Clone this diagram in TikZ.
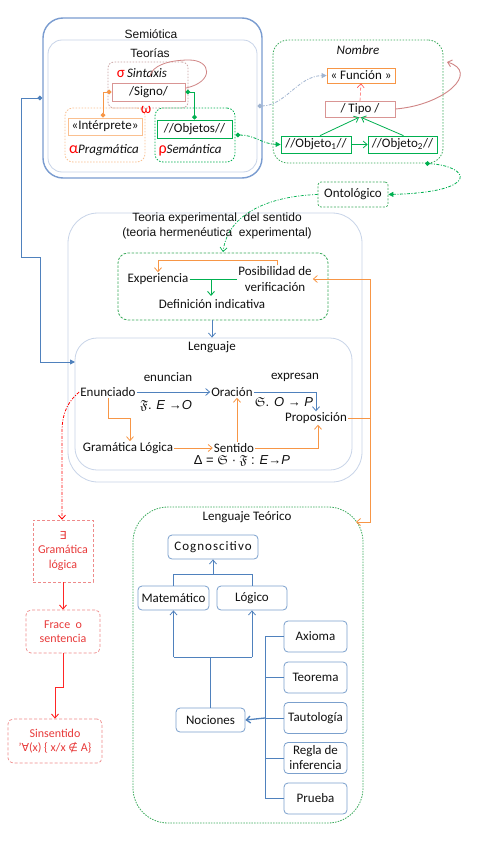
\documentclass[tikz,border=0pt]{standalone}
\usepackage{fontspec}
\setmainfont{Carlito}
\newfontfamily\arialf{Liberation Sans}
\newfontfamily\dejavu{DejaVu Sans}
\usepackage{amssymb}
\usetikzlibrary{arrows.meta,calc}
\definecolor{semblue}{HTML}{7A9CD0}
\definecolor{clight}{HTML}{C8D4E8}
\definecolor{cblue}{HTML}{4F81BD}
\definecolor{cboxblue}{HTML}{7BA0CD}
\definecolor{cgreen}{HTML}{00B050}
\definecolor{cgreend}{HTML}{3BAA5C}
\definecolor{corange}{HTML}{F79646}
\definecolor{corangel}{HTML}{FAC090}
\definecolor{cred}{HTML}{FF0000}
\definecolor{credt}{HTML}{E83A3A}
\definecolor{credl}{HTML}{EE8A8A}
\definecolor{cpink}{HTML}{D99594}
\definecolor{cbrown}{HTML}{C8A0A0}
\definecolor{cloop}{HTML}{D08585}
\definecolor{cgreyblue}{HTML}{A0B4D0}
\definecolor{txt}{HTML}{111111}
\tikzset{
  base/.style={font=\fontsize{13}{15}\selectfont, inner sep=1pt, text=txt},
  arial/.style={font=\arialf\fontsize{12}{14}\selectfont, inner sep=1pt, text=txt},
  cont/.style={draw, inner sep=0pt},
  sbox/.style={base, draw, line width=0.7pt, inner sep=0pt},
  dotbox/.style={cont, line width=0.8pt, dash pattern=on 1.5pt off 1.5pt},
  dashbox/.style={cont, line width=0.8pt, dash pattern=on 2.5pt off 1.5pt},
  ltbox/.style={base, draw=cboxblue, line width=0.8pt, rounded corners=4pt, inner sep=0pt, fill=white},
  redbox/.style={font=\fontsize{12}{14.5}\selectfont, text=credt, draw=credl, line width=0.7pt,
     dash pattern=on 3pt off 2pt, align=center, inner sep=0pt},
  greek/.style={text=cred, font=\fontsize{15}{15}\selectfont},
  tipo/.style={-{Straight Barb[length=4pt,width=7pt]}},
  tri/.style={-{Triangle[length=5pt,width=5pt]}},
  dia/.style={{Diamond[length=5pt,width=5pt]}-{Diamond[length=5pt,width=5pt]}},
}
\begin{document}
\begin{tikzpicture}[x=1pt,y=-1pt]
\useasboundingbox (0,0) rectangle (478,853);
\fill[white] (0,0) rectangle (478,853);

% ---------------- Semiotica
\node[cont, draw=semblue, line width=1.4pt, rounded corners=20pt, minimum width=219pt, minimum height=160pt] (semiotica) at (152.5,98) {};
\node[cont, draw=clight, line width=0.8pt, rounded corners=14pt, minimum width=209pt, minimum height=132pt] (teorias) at (152.5,106) {};
\node[arial] (semlbl) at (151,34) {Semiótica};
\node[arial] (teolbl) at (150,53) {Teorías};

\node[dotbox, draw=cbrown, rounded corners=6pt, minimum width=80pt, minimum height=46pt] (sintbox) at (148,85) {};
\node[dotbox, draw=corangel, rounded corners=8pt, minimum width=80pt, minimum height=54pt] (pragbox) at (105,135) {};
\node[dotbox, draw=cgreen, rounded corners=8pt, minimum width=80pt, minimum height=54pt] (semabox) at (195,135) {};

\node[base] (sintlbl) at (142,73) {{\color{cred}\fontsize{15}{15}\selectfont σ}\,\textit{Sintaxis}};
\node[base] (praglbl) at (104,150) {{\color{cred}\fontsize{16}{15}\selectfont α}\textit{Pragmática}};
\node[base] (semalbl) at (190,150) {{\color{cred}\fontsize{16}{15}\selectfont ρ}\textit{Semántica}};
\node[greek] (omega) at (146,110) {ω};

\node[sbox, draw=cpink, fill=white, minimum width=73pt, minimum height=18pt] (signo) at (148.5,92) {/Signo/};
\node[sbox, draw=corangel, fill=white, minimum width=74pt, minimum height=17pt] (interp) at (105,126.5) {«Intérprete»};
\node[sbox, draw=cgreen, fill=white, minimum width=75pt, minimum height=18pt] (objetos) at (194.5,129) {//Objetos//};

\draw[cloop, line width=0.8pt] (186,88) .. controls (214,82) and (212,60) .. (189,60) .. controls (168,60) and (152,66) .. (150,76);
\draw[corange, line width=0.9pt, dia] ($(interp.north)+(-2,0)$) |- (signo.west);
\draw[cgreen, line width=0.9pt, dia] (signo.east) -| (objetos.north);

% ---------------- Nombre
\node[dotbox, draw=cgreend, rounded corners=15pt, minimum width=170pt, minimum height=123pt] (nombre) at (358,101.5) {};
\node[base] (nomlbl) at (358,50) {\textit{Nombre}};
\node[sbox, draw=corange, minimum width=68pt, minimum height=15pt] (funcion) at (361,75.5) {« Función »};
\node[sbox, draw=cpink, minimum width=70pt, minimum height=16pt] (tipo) at (360,109) {/ Tipo /};
\node[sbox, draw=cgreen, minimum width=70pt, minimum height=17pt] (obj1) at (316,144.5) {//Objeto\textsubscript{1}//};
\node[sbox, draw=cgreen, minimum width=69pt, minimum height=17pt] (obj2) at (402.5,144.5) {//Objeto\textsubscript{2}//};
\node[sbox, draw=cgreend, dash pattern=on 2pt off 1.5pt, rounded corners=3pt, minimum width=70pt, minimum height=25pt] (onto) at (353,194.5) {Ontológico};

\draw[cred!70, line width=0.6pt, densely dashed, tipo] (tipo.north) -- (funcion.south);
\draw[cgreen, line width=0.8pt, tipo] ($(obj1.north)+(4,0)$) -- ($(tipo.south)+(-1,0)$);
\draw[cgreen, line width=0.8pt, tipo] ($(obj2.north)+(1,0)$) -- ($(tipo.south)+(1,0)$);
\draw[cgreen, line width=0.8pt, tipo] (obj1.east) -- (obj2.west);
\coordinate (nombtr) at (447,62);
\draw[cloop, line width=0.9pt, tipo] (tipo.east) .. controls (445,105) and (480,72) .. (nombtr);

\draw[cgreyblue, line width=0.8pt, dash pattern=on 3pt off 1.5pt on 1pt off 1.5pt,
  {Diamond[length=5pt,width=5pt]}-{Triangle[length=5pt,width=5pt]}] (teorias.east) .. controls (285,106) and (298,76) .. (funcion.west);
\draw[cgreen, line width=0.8pt, dash pattern=on 3pt off 1.5pt on 1pt off 1.5pt,
  {Diamond[length=5pt,width=5pt]}-{Triangle[length=5pt,width=5pt]}] (semabox.east) .. controls (255,135) and (262,144) .. (obj1.west);
\coordinate (nomb) at ($(nombre.south)+(67,0)$);
\draw[cgreen, line width=0.8pt, dash pattern=on 3pt off 1.5pt on 1pt off 1.5pt,
  {Diamond[length=5pt,width=5pt]}-{Triangle[length=5pt,width=5pt]}] (nomb) .. controls (470,166) and (482,192) .. (onto.east);

% ---------------- Teoria experimental
\node[cont, draw=clight, line width=0.8pt, rounded corners=30pt, minimum width=294pt, minimum height=269pt] (teoria) at (215,347.5) {};
\node[arial] (teolbl1) at (217,218) {Teoria experimental\ \ del sentido};
\node[arial] (teolbl2) at (217,233) {(teoria hermenéutica\ \ experimental)};
\node[dashbox, draw=cgreend, rounded corners=10pt, minimum width=210pt, minimum height=67pt] (exp) at (223,286.5) {};
\coordinate (exptop) at (223,252);
\draw[cgreen, line width=0.7pt, dash pattern=on 3pt off 1.5pt on 1pt off 1.5pt, tipo] (onto.west) .. controls (272,196) and (228,212) .. (exptop);

\node[base] (exper) at (158,279) {Experiencia};
\node[base, align=center, font=\fontsize{13}{15.5}\selectfont] (posib) at (275,279) {Posibilidad de\\verificación};
\node[base] (defin) at (212,304) {Definición indicativa};
\draw[corange, line width=0.8pt, tipo] ($(posib.north)+(2,0)$) -- ++(0,-5) -| (exper.north);
\draw[cgreen, line width=0.9pt] (exper.east) -- (posib.west);
\draw[cgreen, line width=0.9pt, tipo] ($(exper.east)!0.45!(posib.west)$) -- ++(0,17);

% ---------------- Lenguaje
\node[cont, draw=clight, line width=0.8pt, rounded corners=22pt, minimum width=277pt, minimum height=132pt] (leng) at (213.5,404) {};
\node[base] (lenglbl) at (212,347) {Lenguaje};
\draw[cblue, line width=0.8pt, tipo] (defin.south |- exp.south) -- (defin.south |- leng.north);

\node[base] (enun) at (108,392) {Enunciado};
\node[base] (enuncian) at (168,377) {enuncian};
\node[base] (oracion) at (232,392) {Oración};
\node[base] (expresan) at (295,377) {expresan};
\node[base] (prop) at (316,418) {Proposición};
\node[base] (gram) at (128,448) {Gramática Lógica};
\node[base] (sent) at (234,448) {Sentido};
\node[arial, font=\arialf\fontsize{13}{15}\selectfont] (f1) at (166,406) {$\mathfrak{F}$. \textit{E} →\textit{O}};
\node[arial, font=\arialf\fontsize{13}{15}\selectfont] (f2) at (284,402) {$\mathfrak{S}$. \textit{O} → \textit{P}};
\node[arial, font=\arialf\fontsize{13}{15}\selectfont] (f3) at (242,461) {Δ = $\mathfrak{S}$ · $\mathfrak{F}$ : \textit{E}→\textit{P}};

\draw[cblue, line width=0.8pt, tipo] (enun.east) -- (oracion.west);
\draw[cblue, line width=0.8pt, tipo] (oracion.east) -| (prop.north);
\draw[corange, line width=0.8pt, tipo] (enun.south) -- ++(0,21) -| ($(gram.north)+(2,0)$);
\draw[corange, line width=0.8pt, tipo] (gram.east) -- (sent.west);
\draw[corange, line width=0.8pt, tipo] ($(sent.north)+(3,0)$) -- ($(sent.north |- oracion.south)+(3,0)$);
\draw[corange, line width=0.8pt, tipo] (sent.east) -| ($(prop.south)+(2,0)$);

% ---------------- Lenguaje Teorico
\node[dashbox, draw=cgreend, dash pattern=on 1.5pt off 1.2pt, rounded corners=35pt, minimum width=230pt, minimum height=316pt] (lt) at (248,665) {};
\node[base] (ltlbl) at (247,517) {Lenguaje Teórico};

\coordinate (vbar) at (370,0);
\coordinate (ltin) at (356,522);
\draw[corange, line width=0.8pt] (prop.east) -- (prop.east -| vbar);
\draw[corange, line width=0.8pt, tipo] (posib.east -| vbar) -- (posib.east);
\draw[corange, line width=0.8pt, tipo] (posib.east -| vbar) -- (ltin -| vbar) -- (ltin);

\node[ltbox, minimum width=90pt, minimum height=24pt, font=\fontsize{13}{15}\selectfont\addfontfeature{LetterSpace=8}] (cog) at (213,547) {Cognoscitivo};
\node[ltbox, minimum width=71pt, minimum height=24pt] (mat) at (173.5,598) {Matemático};
\node[ltbox, minimum width=70pt, minimum height=24pt] (log) at (252,598) {Lógico};
\node[ltbox, minimum width=69pt, minimum height=24pt] (noc) at (210.5,720) {Nociones};
\node[ltbox, minimum width=63pt, minimum height=31pt] (axi) at (315.5,636.5) {Axioma};
\node[ltbox, minimum width=63pt, minimum height=31pt] (teor) at (315.5,677.5) {Teorema};
\node[ltbox, minimum width=63pt, minimum height=31pt] (taut) at (315.5,718) {Tautología};
\node[ltbox, minimum width=63pt, minimum height=31pt, align=center, font=\fontsize{13}{15}\selectfont] (regla) at (315.5,758) {Regla de\\inferencia};
\node[ltbox, minimum width=63pt, minimum height=31pt] (prue) at (315.5,798.5) {Prueba};

\coordinate (j1) at (0,574);
\coordinate (j2) at (0,657);
\coordinate (bx) at (265,0);
\draw[cblue, line width=0.8pt] (mat.north) -- (mat.north |- j1) -- (log.north |- j1) -- (log.north);
\draw[cblue, line width=0.8pt, tipo] (cog.south |- j1) -- (cog.south);
\draw[cblue, line width=0.8pt] (noc.north) -- (noc.north |- j2);
\draw[cblue, line width=0.8pt] (mat.south |- j2) -- (log.south |- j2);
\draw[cblue, line width=0.8pt, tipo] (mat.south |- j2) -- (mat.south);
\draw[cblue, line width=0.8pt, tipo] (log.south |- j2) -- (log.south);
\draw[cblue, line width=0.8pt] (axi.west) -- (axi.west -| bx) -- (prue.west -| bx) -- (prue.west);
\draw[cblue, line width=0.8pt] (teor.west -| bx) -- (teor.west);
\draw[cblue, line width=0.8pt] (taut.west -| bx) -- (taut.west);
\draw[cblue, line width=0.8pt] (regla.west -| bx) -- (regla.west);
\draw[cblue, line width=1.3pt, tipo] (taut.west -| bx) -- (noc.east);

% ---------------- Long blue connector
\coordinate (lengin) at (75,362);
\draw[cblue, line width=0.9pt, {Diamond[length=5pt,width=5pt]}-{Triangle[length=5pt,width=5pt]}]
  (semiotica.west) -- (21,98) -- (21,257) -- (40,257) -- (40,362) -- (lengin);

% ---------------- Red chain
\node[redbox, minimum width=60pt, minimum height=62pt] (rgram) at (63,551) {{\dejavu\fontsize{11}{13}\selectfont ∃}\\Gramática\\lógica};
\node[redbox, rounded corners=5pt, minimum width=74pt, minimum height=43pt] (frace) at (63,631.5) {Frace\ \ o\\sentencia};
\node[redbox, rounded corners=5pt, minimum width=94pt, minimum height=44pt] (sins) at (55,741) {Sinsentido\\'{\dejavu\fontsize{11}{13}\selectfont ∀}(x) \{ x/x {\dejavu\fontsize{11}{13}\selectfont ∉} A\}};

\draw[cred, line width=0.8pt, dash pattern=on 3pt off 1.5pt on 1pt off 1.5pt, tipo] (enun.west) .. controls (70,400) and (62,410) .. (62,432) -- ($(rgram.north)+(-1,0)$);
\draw[cred!85, line width=0.9pt, tipo] (rgram.south) -- (frace.north);
\draw[cred!85, line width=0.9pt, tipo] (frace.south) -- ++(0,34) -| (sins.north);

\end{tikzpicture}
\end{document}
